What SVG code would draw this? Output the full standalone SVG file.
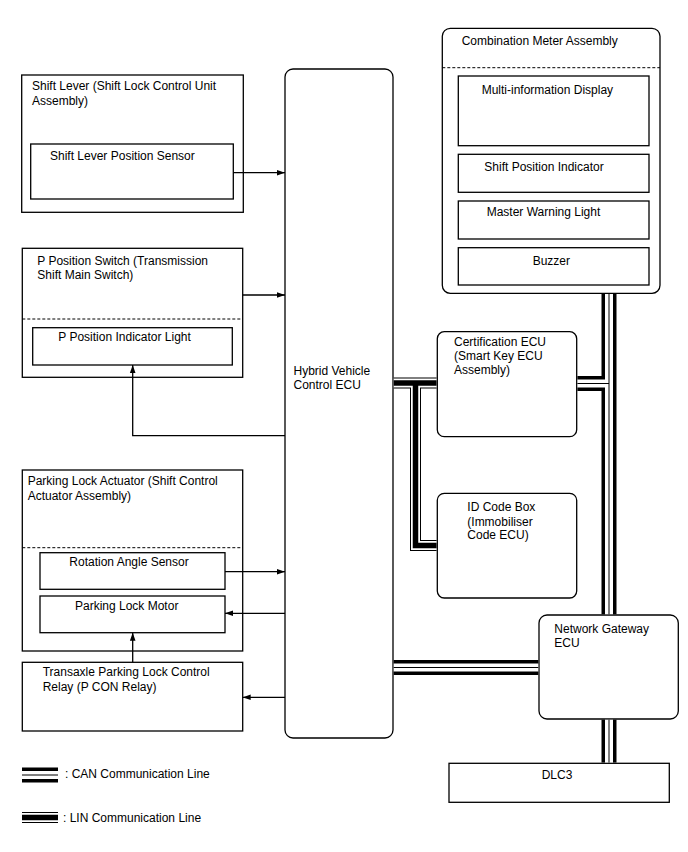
<svg xmlns="http://www.w3.org/2000/svg" width="688" height="852" viewBox="0 0 688 852">
<style>
text { font-family: "Liberation Sans", Arial, sans-serif; font-size: 12px; fill: #000; }
.box { fill: #fff; stroke: #000; stroke-width: 1.3; }
.dash { fill: none; stroke: #000; stroke-width: 1; stroke-dasharray: 3 2; }
.wire { fill: none; stroke: #000; stroke-width: 1.3; marker-end: url(#arr); }
.can1 { fill: none; stroke: #000; stroke-width: 15; }
.can2 { fill: none; stroke: #fff; stroke-width: 8; }
.can3 { fill: none; stroke: #000; stroke-width: 1; }
.lin1 { fill: none; stroke: #000; stroke-width: 11; }
.lin2 { fill: none; stroke: #fff; stroke-width: 9; }
.lin3 { fill: none; stroke: #000; stroke-width: 5.5; }
</style>
<defs>
<marker id="arr" viewBox="0 0 10 10" refX="10" refY="5" markerWidth="8" markerHeight="8" markerUnits="userSpaceOnUse" orient="auto">
<path d="M0,1.5 L10,5 L0,8.5 z" fill="#000"/>
</marker>
<path id="canV1" d="M609,294 V614.3"/>
<path id="canV2" d="M609,719.7 V762.6"/>
<path id="canCert" d="M577.4,383.5 H609"/>
<path id="canGw" d="M393.7,667.5 H538.3"/>
<path id="linH" d="M393.7,383 H436.6"/>
<path id="linB" d="M415.5,383 V545.5 H436.6"/>
<path id="canLeg" d="M22,775 H58"/>
<path id="linLeg" d="M22,817.5 H58"/>
</defs>

<g id="shift-lever">
<rect class="box" x="21.7" y="75" width="221.6" height="137.3"/>
<text x="32" y="90">Shift Lever (Shift Lock Control Unit</text>
<text x="32" y="105">Assembly)</text>
<g id="shift-lever-position-sensor">
<rect class="box" x="30.7" y="144" width="202.6" height="55"/>
<text x="50" y="159.6">Shift Lever Position Sensor</text>
</g>
</g>

<g id="p-position-switch">
<rect class="box" x="22.3" y="248.3" width="220.4" height="129"/>
<text x="37.3" y="265.3">P Position Switch (Transmission</text>
<text x="37.3" y="279.3">Shift Main Switch)</text>
<path class="dash" d="M22.3,319 H242.7"/>
<g id="p-position-indicator-light">
<rect class="box" x="32.7" y="327.7" width="199.6" height="37.3"/>
<text x="58.3" y="341.3">P Position Indicator Light</text>
</g>
</g>

<g id="parking-lock-actuator">
<rect class="box" x="22.3" y="470" width="220.4" height="181"/>
<text x="27.7" y="485.3">Parking Lock Actuator (Shift Control</text>
<text x="27.7" y="499.6">Actuator Assembly)</text>
<path class="dash" d="M22.3,547.7 H242.7"/>
<g id="rotation-angle-sensor">
<rect class="box" x="40" y="552.7" width="185" height="36.6"/>
<text x="69.3" y="566.3">Rotation Angle Sensor</text>
</g>
<g id="parking-lock-motor">
<rect class="box" x="40" y="596" width="185" height="36.7"/>
<text x="75" y="609.6">Parking Lock Motor</text>
</g>
</g>

<g id="p-con-relay">
<rect class="box" x="22.3" y="662.3" width="220.4" height="68.7"/>
<text x="42.7" y="676.3">Transaxle Parking Lock Control</text>
<text x="42.7" y="691">Relay (P CON Relay)</text>
</g>

<g id="hv-ecu">
<rect class="box" x="285" y="69" width="108" height="669" rx="8"/>
<text x="293.5" y="375">Hybrid Vehicle</text>
<text x="293.5" y="389">Control ECU</text>
</g>

<g id="combination-meter">
<rect class="box" x="442.3" y="28.3" width="217.7" height="265" rx="8"/>
<text x="461.7" y="44.6">Combination Meter Assembly</text>
<path class="dash" d="M442.3,67.7 H660"/>
<g id="multi-information-display">
<rect class="box" x="458.3" y="76" width="190.7" height="69.7"/>
<text x="481.7" y="93.6">Multi-information Display</text>
</g>
<g id="shift-position-indicator">
<rect class="box" x="458.3" y="154.3" width="190.7" height="38"/>
<text x="484.3" y="171.3">Shift Position Indicator</text>
</g>
<g id="master-warning-light">
<rect class="box" x="458.3" y="201" width="190.7" height="38"/>
<text x="486.7" y="216.3">Master Warning Light</text>
</g>
<g id="buzzer">
<rect class="box" x="458.3" y="247.7" width="190.7" height="37.3"/>
<text x="532.7" y="264.6">Buzzer</text>
</g>
</g>

<g id="certification-ecu">
<rect class="box" x="437.3" y="331.7" width="139.4" height="105" rx="7"/>
<text x="454" y="346">Certification ECU</text>
<text x="454" y="360.3">(Smart Key ECU</text>
<text x="454" y="374.3">Assembly)</text>
</g>

<g id="id-code-box">
<rect class="box" x="437.3" y="493.3" width="139.4" height="104.7" rx="7"/>
<text x="467.3" y="511.3">ID Code Box</text>
<text x="467.3" y="526">(Immobiliser</text>
<text x="467.3" y="539.3">Code ECU)</text>
</g>

<g id="network-gateway-ecu">
<rect class="box" x="539" y="615" width="139.3" height="104" rx="8"/>
<text x="554.3" y="633">Network Gateway</text>
<text x="554.3" y="647">ECU</text>
</g>

<g id="dlc3">
<rect class="box" x="449" y="763.3" width="220.3" height="39"/>
<text x="541.7" y="779.3">DLC3</text>
</g>

<g id="connectors">
<g id="buses">
<use href="#canV1" class="can1"/><use href="#canV2" class="can1"/><use href="#canCert" class="can1"/><use href="#canGw" class="can1"/>
<use href="#canV1" class="can2"/><use href="#canV2" class="can2"/><use href="#canCert" class="can2"/><use href="#canGw" class="can2"/>
<use href="#canV1" class="can3"/><use href="#canV2" class="can3"/><use href="#canCert" class="can3"/><use href="#canGw" class="can3"/>
<use href="#linH" class="lin1"/><use href="#linB" class="lin1"/>
<use href="#linH" class="lin2"/><use href="#linB" class="lin2"/>
<use href="#linH" class="lin3"/><use href="#linB" class="lin3"/>
</g>
<path class="wire" d="M233.3,172.7 H285"/>
<path class="wire" d="M242.7,295 H285"/>
<path class="wire" d="M285,435.7 H132.7 V365"/>
<path class="wire" d="M225,571.7 H285"/>
<path class="wire" d="M285,613.3 H225"/>
<path class="wire" d="M132.7,662.3 V632.7"/>
<path class="wire" d="M285,697.3 H242.7"/>
</g>

<g id="legend">
<use href="#canLeg" class="can1"/><use href="#canLeg" class="can2"/><use href="#canLeg" class="can3"/>
<text x="65" y="778">: CAN Communication Line</text>
<use href="#linLeg" class="lin1"/><use href="#linLeg" class="lin2"/><use href="#linLeg" class="lin3"/>
<text x="63" y="822">: LIN Communication Line</text>
</g>
</svg>
